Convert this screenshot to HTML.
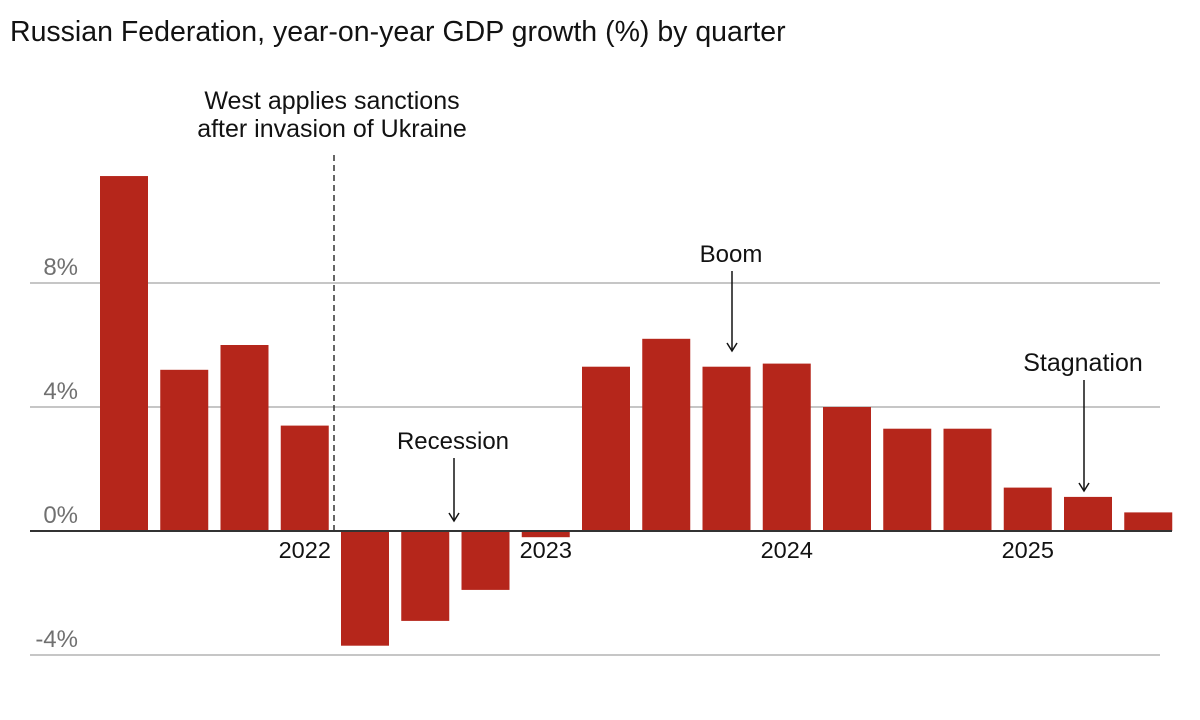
<!DOCTYPE html>
<html><head><meta charset="utf-8">
<style>
body{margin:0;background:#fff;width:1200px;height:715px;overflow:hidden;font-family:"Liberation Sans",sans-serif}
</style></head><body>
<svg width="1200" height="715" xmlns="http://www.w3.org/2000/svg">
<text x="10" y="41" font-size="28.5" fill="#121212">Russian Federation, year-on-year GDP growth (%) by quarter</text>
<g id="grid"></g><g id="bars"></g><g id="xlabels"></g><g id="ann"></g>
</svg>
<script>
const quarters=["Q1 21","Q2 21","Q3 21","Q4 21","Q1 22","Q2 22","Q3 22","Q4 22","Q1 23","Q2 23","Q3 23","Q4 23","Q1 24","Q2 24","Q3 24","Q4 24","Q1 25","Q2 25"];
const growth=[11.45,5.2,6.0,3.4,-3.7,-2.9,-1.9,-0.2,5.3,6.2,5.3,5.4,4.0,3.3,3.3,1.4,1.1,0.6];
const yTicks=[8,4,0,-4];
const yearLabels=["2022","2023","2024","2025"];
const yearIdx=[3,7,11,15];
const NS="http://www.w3.org/2000/svg";
const y=v=>531-v*31;
const x=i=>100+i*60.25;
const bw=48;
function mk(t,a,p){const e=document.createElementNS(NS,t);for(const k in a)e.setAttribute(k,a[k]);p.appendChild(e);return e;}
const grid=document.getElementById('grid');
yTicks.forEach(t=>{
  const l=mk('line',{x1:30,x2:1160,y1:y(t),y2:y(t),stroke:t===0?'#333':'#b3b3b3','stroke-width':t===0?2:1.5},grid);
  
  
  const tx=mk('text',{x:78,y:y(t)-8,'text-anchor':'end','font-size':24,fill:'#707070'},grid);
  tx.textContent=t+'%';
  
  
});
const bars=document.getElementById('bars');
growth.forEach((v,i)=>{
  const r=mk('rect',{x:x(i),width:bw,y:Math.min(y(v),y(0)),height:Math.abs(y(v)-y(0)),fill:'#b5261b'},bars);
  
  
});
mk('line',{x1:30,x2:1172,y1:y(0),y2:y(0),stroke:'#333','stroke-width':2},bars);
const xl=document.getElementById('xlabels');
yearLabels.forEach((lab,k)=>{
  const t=mk('text',{x:x(yearIdx[k])+bw/2,y:558,'text-anchor':'middle','font-size':23.5,fill:'#121212'},xl);
  t.textContent=lab;
  
  
});
const ann=document.getElementById('ann');
const d=mk('line',{x1:334,x2:334,y1:155,y2:531,stroke:'#333','stroke-width':1.5,'stroke-dasharray':'6,4'},ann);


function txt(s,xx,yy,fs,name){const t=mk('text',{x:xx,y:yy,'text-anchor':'middle','font-size':fs,fill:'#121212'},ann);t.textContent=s;}
txt('West applies sanctions',332,109,25,'sanctions-annotation');
txt('after invasion of Ukraine',332,137,25,'sanctions-annotation-2');
txt('Recession',453,449,24,'recession-label');
txt('Boom',731,262,24,'boom-label');
txt('Stagnation',1083,371,25,'stagnation-label');
function arrow(xx,y1,y2,name){const g=mk('g',{},ann);
mk('line',{x1:xx,x2:xx,y1:y1,y2:y2,stroke:'#121212','stroke-width':1.5},g);
mk('path',{d:`M${xx-5} ${y2-8} L${xx} ${y2} L${xx+5} ${y2-8}`,fill:'none',stroke:'#121212','stroke-width':1.5},g);}
arrow(454,458,521,'recession-arrow');
arrow(732,271,351,'boom-arrow');
arrow(1084,380,491,'stagnation-arrow');
</script>
</body></html>
